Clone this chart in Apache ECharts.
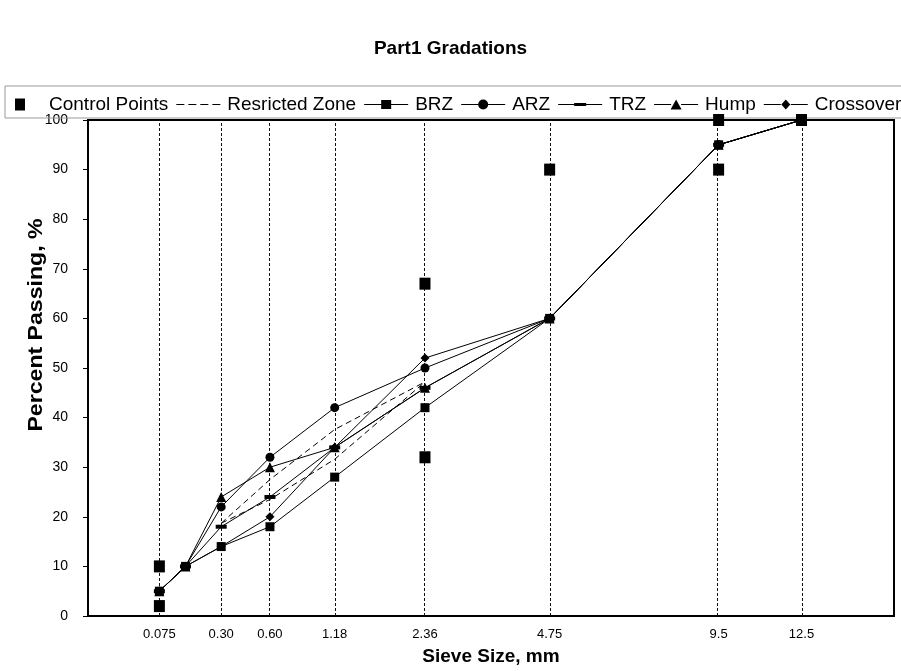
<!DOCTYPE html>
<html>
<head>
<meta charset="utf-8">
<script src="https://cdn.jsdelivr.net/npm/echarts@6/dist/echarts.min.js"></script>
<style>html,body{margin:0;padding:0;background:#fff;}#c{width:901px;height:671px;}</style>
</head>
<body>
<div id="c"></div>
<script>
// Sieve sizes (mm) and axis labels; x axis uses the 0.45 power scale
const sieveSizes = [0.075, 0.15, 0.30, 0.60, 1.18, 2.36, 4.75, 9.5, 12.5];
const labelSizes = [0.075, 0.30, 0.60, 1.18, 2.36, 4.75, 9.5, 12.5];
const labelTexts = ['0.075', '0.30', '0.60', '1.18', '2.36', '4.75', '9.5', '12.5'];
const yTicks = [0, 10, 20, 30, 40, 50, 60, 70, 80, 90, 100];

// Control points [size, percent]
const controlSizes = [0.075, 0.075, 2.36, 2.36, 4.75, 9.5, 9.5, 12.5];
const controlValues = [2, 10, 32, 67, 90, 90, 100, 100];

// Restricted zone (lower and upper boundaries)
const rzSizes = [0.30, 0.60, 1.18, 2.36];
const rzLower = [18.7, 23.5, 31.6, 47.2];
const rzUpper = [18.7, 27.5, 37.6, 47.2];

// Gradations, percent passing at sieveSizes
const brz = [5, 10, 14, 18, 28, 42, 60, 95, 100];
const arz = [5, 10, 22, 32, 42, 50, 60, 95, 100];
const trz = [5, 10, 18, 24, 34, 46, 60, 95, 100];
const hump = [5, 10, 24, 30, 34, 46, 60, 95, 100];
const crossover = [5, 10, 14, 20, 34, 52, 60, 95, 100];

const P = 0.45;
const tx = s => Math.pow(s, P);
const pairs = (xs, ys) => xs.map((s, i) => [tx(s), ys[i]]);

const chart = echarts.init(document.getElementById('c'));
const FONT = 'Liberation Sans, Arial, sans-serif';
const lineBase = (name, data, symbol, size) => ({
  name, type: 'line', data, symbol, symbolSize: size,
  lineStyle: { color: '#000', width: 1 },
  itemStyle: { color: '#000', opacity: 1 },
  z: 5, animation: false
});

const customX = labelSizes.map(tx);

// legend icons (44 x 12 box)
const B = 'M0,0L0,0Z M44,12L44,12Z ';
const sideLines = (a, b) => `M0,5.5H${a}V6.5H0Z M${b},5.5H44V6.5H${b}Z `;
const icons = {
  'Control Points': 'path://' + B + 'M17,0H27V12H17Z',
  'Resricted Zone': 'path://' + B + 'M0,5.5H8V6.5H0Z M12,5.5H20V6.5H12Z M24,5.5H32V6.5H24Z M36,5.5H44V6.5H36Z',
  'BRZ': 'path://' + B + sideLines(17, 27) + 'M17,1.5H27V10.5H17Z',
  'ARZ': 'path://' + B + sideLines(17, 27) + 'M17,6A5,5 0 1,1 27,6A5,5 0 1,1 17,6Z',
  'TRZ': 'path://' + B + sideLines(16, 28) + 'M16,4.5H28V7.5H16Z',
  'Hump': 'path://' + B + sideLines(17, 27) + 'M22,1L27.5,11H16.5Z',
  'Crossover': 'path://' + B + sideLines(17, 27) + 'M22,1L26.5,6L22,11L17.5,6Z'
};
const legendNames = ['Control Points', 'Resricted Zone', 'BRZ', 'ARZ', 'TRZ', 'Hump', 'Crossover'];

chart.setOption({
  animation: false,
  title: {
    text: 'Part1 Gradations', left: 'center', top: 34,
    textStyle: { fontFamily: FONT, fontSize: 19, fontWeight: 'bold', color: '#000' }
  },
  graphic: [
    {
      type: 'rect', shape: { x: 5, y: 86, width: 905, height: 32 },
      style: { fill: 'none', stroke: '#999', lineWidth: 1 }, silent: true, z: 1
    },
    {
      type: 'text', x: 36, y: 325, rotation: Math.PI / 2, scaleX: 1.1,
      style: {
        text: 'Percent Passing, %', fontFamily: FONT, fontSize: 21, fontWeight: 'bold',
        fill: '#000', align: 'center', verticalAlign: 'middle'
      }, silent: true
    }
  ],
  legend: {
    left: -2, top: 95, width: 1100, padding: 0, itemGap: 8, itemWidth: 44, itemHeight: 12,
    textStyle: { fontFamily: FONT, fontSize: 19, color: '#000', padding: [0, 0, 0, 2] },
    data: legendNames.map(n => ({ name: n, icon: icons[n], itemStyle: { color: '#000', borderWidth: 0 } }))
  },
  grid: { left: 88, right: 7, top: 120, bottom: 52, show: true, borderColor: '#000', borderWidth: 2, containLabel: false },
  xAxis: {
    type: 'value', min: 0, max: 3.52,
    name: 'Sieve Size, mm', nameLocation: 'middle', nameGap: 31,
    nameTextStyle: { fontFamily: FONT, fontSize: 19, fontWeight: 'bold', color: '#000' },
    axisLine: { show: true, lineStyle: { color: '#000', width: 2 } },
    axisTick: { show: false },
    splitLine: { show: false },
    axisLabel: {
      customValues: customX,
      fontFamily: FONT, fontSize: 13, color: '#000', margin: 12,
      formatter: v => {
        let best = 0, bd = 1e9;
        customX.forEach((c, i) => { const d = Math.abs(c - v); if (d < bd) { bd = d; best = i; } });
        return labelTexts[best];
      }
    }
  },
  yAxis: {
    type: 'value', min: 0, max: 100, interval: 10,
    axisLine: { show: true, lineStyle: { color: '#000', width: 2 } },
    axisTick: { show: true, length: 5, lineStyle: { color: '#000' } },
    splitLine: { show: false },
    axisLabel: { fontFamily: FONT, fontSize: 14, color: '#000', margin: 20 }
  },
  series: [
    {
      name: 'Control Points', type: 'scatter', symbol: 'rect', symbolSize: [11, 12],
      itemStyle: { color: '#000', opacity: 1 }, z: 6,
      data: pairs(controlSizes, controlValues),
      markLine: {
        silent: true, symbol: 'none', label: { show: false },
        lineStyle: { color: '#111', type: [3, 2], width: 1 },
        data: labelSizes.map(s => ({ xAxis: tx(s) }))
      }
    },
    {
      name: 'Resricted Zone', type: 'line', data: pairs(rzSizes, rzLower), symbol: 'none',
      lineStyle: { color: '#000', width: 1, type: [6, 4] }, itemStyle: { color: '#000' }, z: 4
    },
    {
      name: 'Resricted Zone', type: 'line', data: pairs(rzSizes, rzUpper), symbol: 'none',
      lineStyle: { color: '#000', width: 1, type: [6, 4] }, itemStyle: { color: '#000' }, z: 4
    },
    lineBase('ARZ', pairs(sieveSizes, arz), 'circle', 9),
    lineBase('TRZ', pairs(sieveSizes, trz), 'rect', [11, 4]),
    lineBase('Hump', pairs(sieveSizes, hump), 'triangle', 10),
    lineBase('Crossover', pairs(sieveSizes, crossover), 'diamond', 9),
    lineBase('BRZ', pairs(sieveSizes, brz), 'rect', 9)
  ]
});
</script>
</body>
</html>
